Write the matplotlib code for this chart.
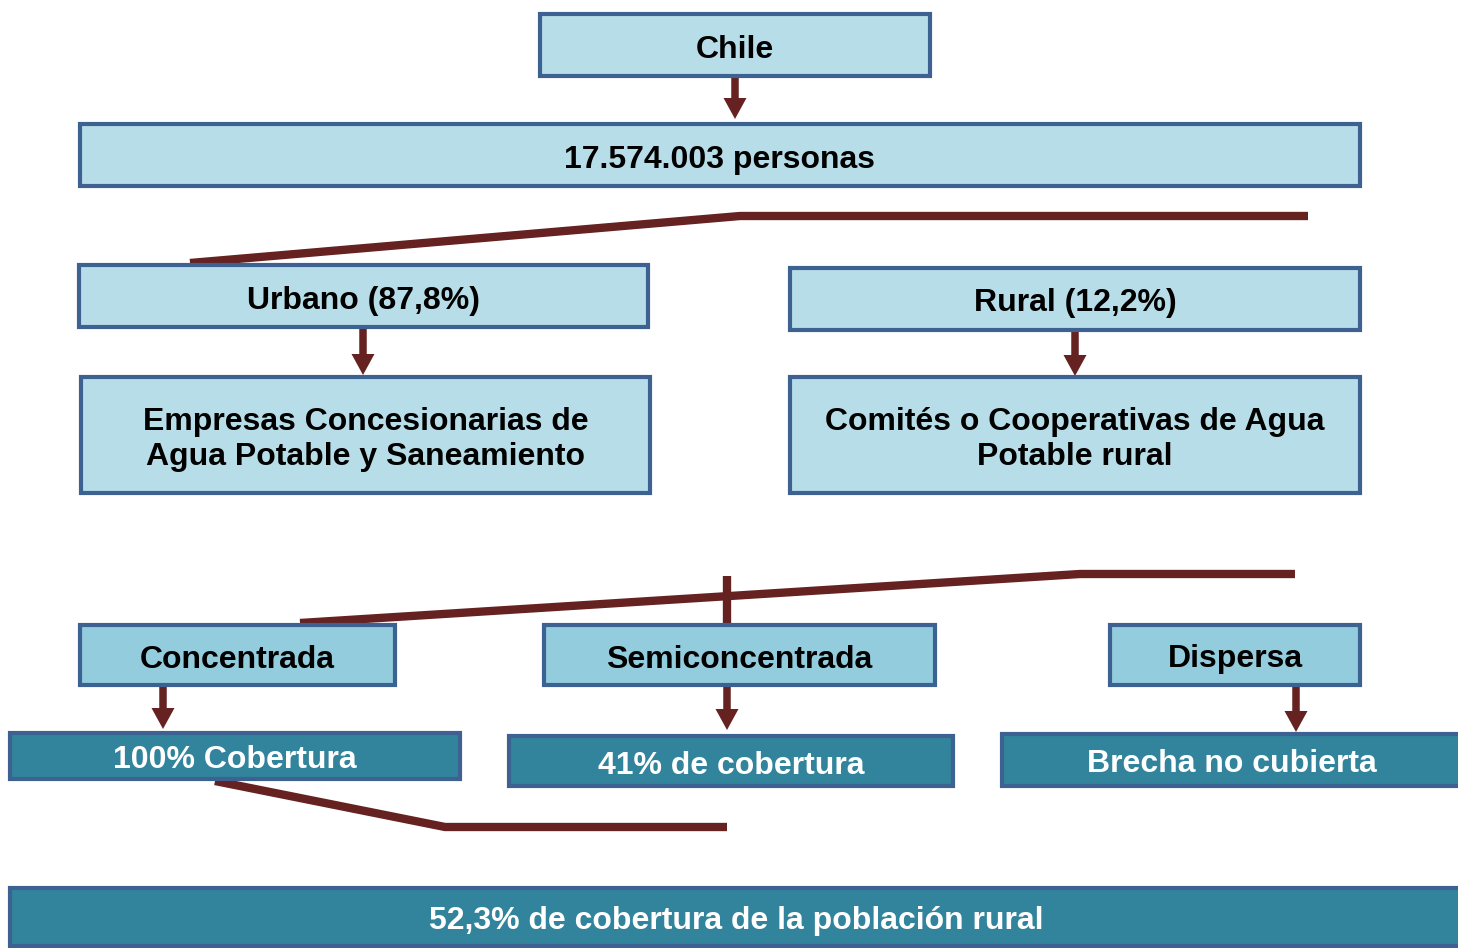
import matplotlib
matplotlib.use("Agg")
import matplotlib.pyplot as plt
from matplotlib.patches import Rectangle, FancyArrow

# ---- content ----
top_labels = ["Chile", "17.574.003 personas"]
area_labels = ["Urbano (87,8%)", "Rural (12,2%)"]
provider_labels = ["Empresas Concesionarias de\nAgua Potable y Saneamiento",
                   "Comités o Cooperativas de Agua\nPotable rural"]
rural_types = ["Concentrada", "Semiconcentrada", "Dispersa"]
coverage_labels = ["100% Cobertura", "41% de cobertura", "Brecha no cubierta"]
total_label = "52,3% de cobertura de la población rural"

# ---- style ----
LIGHT = "#b7dee8"
MID = "#93cddd"
DARK = "#31849b"
EDGE = "#3d6190"
LINE = "#652221"
FONT = "Liberation Sans"

fig = plt.figure(figsize=(14.58, 9.48), dpi=100)
ax = fig.add_axes([0, 0, 1, 1])
ax.set_xlim(0, 1458)
ax.set_ylim(948, 0)
ax.axis("off")


def box(x0, y0, x1, y1, text, fill, tcolor="black", fs=23):
    ax.add_patch(Rectangle((x0, y0), x1 - x0, y1 - y0, facecolor=fill,
                           edgecolor=EDGE, linewidth=3.0, zorder=2))
    ax.text((x0 + x1) / 2, (y0 + y1) / 2 + 4.5, text, ha="center", va="center",
            fontsize=fs, fontweight="bold", color=tcolor, family=FONT,
            linespacing=1.25, zorder=3)


def arrow(x, y0, y1):
    ax.add_patch(FancyArrow(x, y0, 0, y1 - y0, width=7.5, head_width=23,
                            head_length=21, length_includes_head=True,
                            color=LINE, linewidth=0, zorder=1))


def line(xs, ys):
    ax.plot(xs, ys, color=LINE, linewidth=6, solid_capstyle="butt",
            solid_joinstyle="miter", zorder=1)


# level 1
box(540, 14, 930, 76, top_labels[0], LIGHT)
arrow(735, 77, 119)
box(80, 124, 1360, 186, top_labels[1], LIGHT)

# split urban / rural
line([190, 740, 1308], [263, 216, 216])
box(79, 265, 648, 327, area_labels[0], LIGHT)
box(790, 268, 1360, 330, area_labels[1], LIGHT)
arrow(363, 328, 375)
arrow(1075, 331, 376)
box(81, 377, 650, 493, provider_labels[0], LIGHT)
box(790, 377, 1360, 493, provider_labels[1], LIGHT)

# rural types
line([300, 1080, 1295], [623, 574, 574])
line([727, 727], [576, 624])
box(80, 625, 395, 685, rural_types[0], MID)
box(544, 625, 935, 685, rural_types[1], MID)
box(1110, 625, 1360, 685, rural_types[2], MID)
arrow(163, 686, 729)
arrow(727, 686, 730)
arrow(1296, 686, 732)

# coverage
box(10, 733, 460, 779, coverage_labels[0], DARK, "white")
box(509, 736, 953, 786, coverage_labels[1], DARK, "white")
box(1002, 734, 1462, 786, coverage_labels[2], DARK, "white")
line([215, 445, 727], [781, 827, 827])

# total
box(10, 888, 1462, 946, total_label, DARK, "white")

fig.savefig("out.png", dpi=100)
